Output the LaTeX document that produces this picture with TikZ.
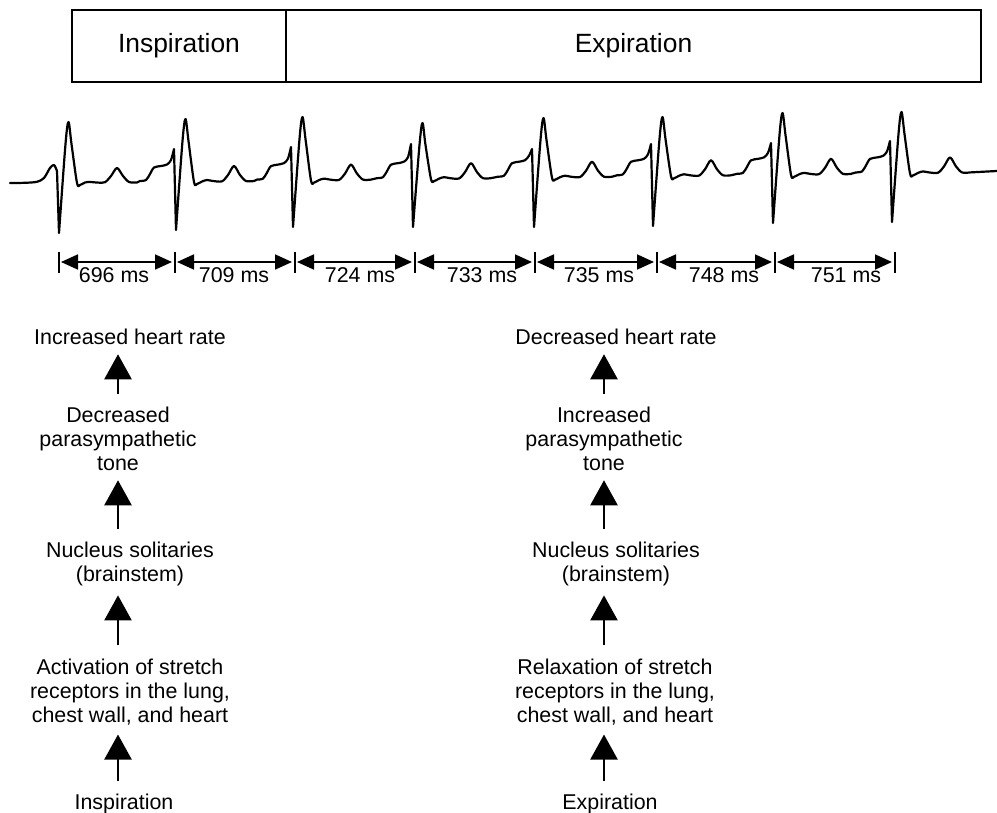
\documentclass[tikz,border=0pt]{standalone}
\usepackage{fontspec}
\setmainfont{Liberation Sans}
\usetikzlibrary{arrows.meta,positioning}
\begin{document}
\begin{tikzpicture}[x=0.5pt,y=-0.5pt,
    every node/.style={font=\fontsize{10.7pt}{12pt}\selectfont},
    phasebox/.style={draw,line width=0.6pt,minimum height=36pt,inner sep=0pt,outer sep=0pt,font=\fontsize{13.2pt}{15pt}\selectfont},
    ecg/.style={line width=1.1pt,line join=round,line cap=round},
    mstick/.style={line width=0.9pt},
    rrspan/.style={line width=0.9pt,{Triangle[length=8.5pt,width=7.5pt]}-{Triangle[length=8.5pt,width=7.5pt]},shorten <=1pt,shorten >=1.5pt},
    stage/.style={align=center,inner sep=0pt},
    rise/.style={line width=1.15pt,-{Triangle[length=12.5pt,width=13.5pt]},shorten <=6.5pt,shorten >=4.5pt}]
  \useasboundingbox (0,0) rectangle (997,813);

  % breathing phases
  \node[phasebox,minimum width=107pt] (phin) at (179,46) {Inspiration};
  \node[phasebox,minimum width=347.5pt,right=0pt of phin] (phex) {Expiration};

  % ecg trace
  \draw[ecg] plot[smooth,tension=0.5] coordinates {(10,183) (25,182.8) (37,181.8) (44,178) (50,168) (54,165) (57,171)}
    -- plot[smooth,tension=0.5] coordinates {(59,233) (65.5,144) (68.5,122) (71.5,144) (77,183) (80,185) (85,182.5) (90,182) (98,182.6) (105,182.2) (111,176) (117,168) (123,176) (129,182) (137,182.5)}
    foreach \xs/\q/\s/\r [evaluate=\xs as \bl using 183-0.012*(\xs-10)] in
      {176/149/230/119, 293/147/227/117, 413/144/227/123, 534/149/227/118,
       653/144/226/117, 773/143/223/113, 892/141/222/112}
    { -- plot[smooth,tension=0.5] coordinates {({\xs-36},\bl) ({\xs-30},{\bl-1}) ({\xs-26},{\bl-7}) ({\xs-22},{\bl-13.5})
          ({\xs-15},{\bl-15}) ({\xs-9},{\bl-16.5}) ({\xs-5},{\bl-21}) ({\xs-2},\q)}
      -- plot[smooth,tension=0.5] coordinates {(\xs,\s) ({\xs+6.5},{\r+22}) ({\xs+9.5},\r) ({\xs+12.5},{\r+22})
          ({\xs+18},{\bl+1}) ({\xs+21},{\bl+3}) ({\xs+26},{\bl+0.5}) ({\xs+31},{\bl-1}) ({\xs+37},\bl)
          ({\xs+46},{\bl+0.3}) ({\xs+52},{\bl-6}) ({\xs+58},{\bl-15}) ({\xs+64},{\bl-6}) ({\xs+70},\bl) ({\xs+78},\bl)} }
    -- (997,171);

  % beat to beat intervals
  \foreach \x [count=\i] in {59,175,295,415,535,657,775,895}
    \coordinate (t\i) at (\x,262);
  \foreach \i in {1,...,8}
    \draw[mstick] (t\i) ++(0,-10) -- ++(0,21);
  \foreach \i/\j/\msval/\lx in {1/2/696/114, 2/3/709/234, 3/4/724/360, 4/5/733/482,
                                5/6/735/599, 6/7/748/724, 7/8/751/846}{
    \draw[rrspan] (t\i) -- (t\j);
    \node (ms\i) at (\lx,275) {\msval{} ms};
  }

  % inspiration chain
  \coordinate (lcol) at (118,0);
  \node[stage] (lhr) at (130,337) {Increased heart rate};
  \node[stage] (lpar) at (118,439) {Decreased\\parasympathetic\\tone};
  \node[stage] (lnts) at (130,564) {Nucleus solitaries\\(brainstem)};
  \node[stage] (lstr) at (130,692) {Activation of stretch\\receptors in the lung,\\chest wall, and heart};
  \node[stage] (linsp) at (124,804) {Inspiration};
  \foreach \lo/\hi in {linsp/lstr, lstr/lnts, lnts/lpar, lpar/lhr}
    \draw[rise] (\lo.north -| lcol) -- (\hi.south -| lcol);

  % expiration chain
  \coordinate (rcol) at (604,0);
  \node[stage] (rhr) at (616,337) {Decreased heart rate};
  \node[stage] (rpar) at (604,439) {Increased\\parasympathetic\\tone};
  \node[stage] (rnts) at (616,564) {Nucleus solitaries\\(brainstem)};
  \node[stage] (rstr) at (615,692) {Relaxation of stretch\\receptors in the lung,\\chest wall, and heart};
  \node[stage] (rexp) at (610,804) {Expiration};
  \foreach \lo/\hi in {rexp/rstr, rstr/rnts, rnts/rpar, rpar/rhr}
    \draw[rise] (\lo.north -| rcol) -- (\hi.south -| rcol);
\end{tikzpicture}
\end{document}
